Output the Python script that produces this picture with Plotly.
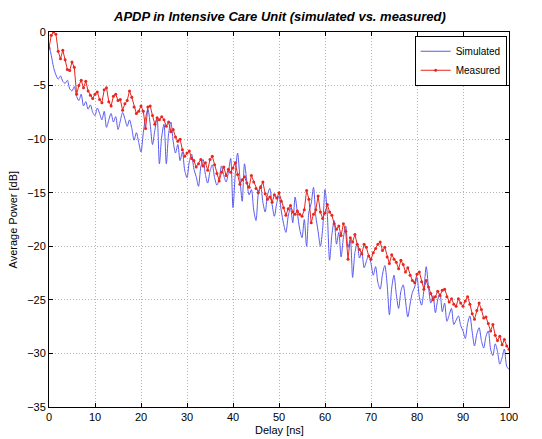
import plotly.graph_objects as go

# Delay axis (ns), 0.5 ns steps
delay = [i * 0.5 for i in range(201)]

measured = [
    -1.5, -0.3, 0.0, -0.2, -1.8, -2.5, -1.7, -2.6, -3.5, -3.6,
    -2.8, -3.3, -5.8, -5.0, -4.5, -5.2, -4.6, -5.5, -5.9, -6.2,
    -5.8, -5.6, -6.3, -6.6, -5.4, -5.2, -6.5, -6.9, -6.0, -5.8,
    -6.4, -6.3, -7.3, -6.7, -6.4, -5.5, -6.1, -7.0, -7.6, -7.4,
    -6.9, -7.4, -9.0, -7.0, -6.9, -7.8, -8.6, -8.0, -8.2, -7.9,
    -8.2, -8.8, -8.4, -9.3, -9.1, -9.8, -10.2, -10.0, -11.0, -11.6,
    -11.3, -11.1, -11.8, -12.0, -12.6, -12.3, -11.9, -12.5, -12.2, -12.9,
    -11.9, -11.6, -12.4, -13.2, -13.9, -13.1, -12.6, -13.4, -12.8, -13.1,
    -12.7, -12.2, -13.3, -14.2, -13.8, -13.5, -14.1, -14.5, -13.4, -14.0,
    -14.6, -15.0, -14.5, -14.0, -15.1, -15.6, -15.4, -15.9, -15.2, -15.5,
    -15.0, -15.8, -16.4, -17.1, -16.5, -16.2, -16.8, -17.0, -16.7, -17.0,
    -17.2, -16.6, -14.8, -15.6, -17.8, -17.0, -16.6, -15.3, -16.8, -17.4,
    -16.9, -16.1, -16.8, -17.1, -17.9, -18.4, -18.1, -19.0, -17.9, -18.6,
    -21.2, -19.2, -19.6, -18.9, -19.8, -20.3, -20.7, -19.8, -20.1, -20.9,
    -21.2, -20.6, -20.2, -19.8, -19.6, -20.4, -20.1, -21.0, -21.6, -20.8,
    -21.2, -21.5, -22.1, -21.3, -21.7, -22.4, -22.0, -22.7, -23.2, -23.4,
    -22.6, -22.4, -23.3, -24.0, -23.2, -23.8, -24.4, -25.0, -24.7, -24.2,
    -24.6, -24.1, -24.0, -24.7, -25.2, -24.9, -25.4, -25.6, -24.9, -25.3,
    -25.6, -25.1, -24.7, -25.4, -26.3, -26.8, -26.0, -25.3, -25.9, -26.7,
    -26.6, -27.2, -27.9, -27.3, -28.3, -28.8, -28.4, -29.2, -28.7, -29.3,
    -29.6,
]

simulated = [
    -1.2, -2.2, -3.3, -4.0, -4.4, -4.1, -4.6, -4.8, -4.5, -5.3,
    -5.5, -5.1, -6.0, -6.4, -5.8, -6.9, -6.5, -7.2, -6.8, -7.5,
    -7.8, -7.1, -7.6, -8.2, -7.4, -8.9, -8.2, -7.6, -8.4, -7.9,
    -9.1, -8.3, -7.5, -8.1, -8.8, -8.2, -9.0, -10.1, -9.4, -10.3,
    -11.2, -9.4, -8.0, -7.2, -8.6, -10.5, -9.2, -8.0, -12.3, -9.8,
    -8.6, -12.3, -9.5, -8.4, -10.2, -11.3, -10.5, -12.0, -11.2, -12.9,
    -13.6, -12.1, -11.4, -12.8, -13.5, -14.4, -12.6, -11.9, -13.3, -14.1,
    -13.0, -12.4, -13.6, -14.3, -13.7, -12.5, -13.4, -14.0, -13.1, -11.8,
    -16.4, -13.2, -11.3, -13.6, -15.8, -12.3, -13.9, -15.2, -14.7, -16.6,
    -17.6, -15.1, -14.3, -15.9, -16.8, -15.2, -14.6, -16.1, -17.2, -16.0,
    -15.3, -16.7, -17.9, -18.7, -17.2, -16.4, -17.8, -15.4, -16.9, -18.4,
    -19.2, -17.5, -20.0, -16.8, -16.0, -14.5, -17.2, -18.6, -20.0, -18.3,
    -14.7, -17.0, -21.3, -18.9, -17.6, -19.8, -18.7, -21.0, -19.2, -18.1,
    -20.1, -19.4, -22.9, -20.6, -19.7, -21.1, -20.5, -22.0, -21.4, -20.8,
    -21.6, -22.7, -21.9, -23.4, -24.0, -22.6, -21.8, -23.5, -26.4, -23.9,
    -22.7, -24.5, -25.8, -24.2, -23.6, -25.1, -26.6, -25.4, -24.3, -23.8,
    -22.9, -24.7, -25.5, -24.1, -21.9, -23.8, -25.3, -24.6, -26.2, -25.0,
    -24.4, -26.1, -25.3, -27.0, -26.4, -25.8, -27.3, -26.9, -26.5, -27.4,
    -27.9, -28.6, -27.2, -26.5, -28.0, -29.3, -28.2, -27.6, -28.8, -29.5,
    -28.4, -27.9, -29.6, -30.2, -29.1, -29.8, -31.0, -30.4, -29.6, -31.2,
    -31.5,
]

x_ticks = [0, 10, 20, 30, 40, 50, 60, 70, 80, 90, 100]
y_ticks = [-35, -30, -25, -20, -15, -10, -5, 0]

FONT = "Liberation Sans, Arial, sans-serif"

fig = go.Figure()
fig.add_trace(go.Scatter(
    x=delay, y=simulated, mode="lines", name="Simulated",
    line=dict(color="#5a5af0", width=1, shape="spline", smoothing=0.8),
))
fig.add_trace(go.Scatter(
    x=delay, y=measured, mode="lines+markers", name="Measured",
    line=dict(color="#e8261e", width=1),
    marker=dict(color="#e8261e", size=3),
))

axis_common = dict(
    showline=True, linecolor="black", linewidth=1, mirror="ticks",
    ticks="inside", ticklen=4, tickcolor="black",
    showgrid=True, gridcolor="#b4b4b4", griddash="1px,2px", gridwidth=1,
    zeroline=False, tickfont=dict(family=FONT, size=11, color="black"),
)

fig.update_xaxes(range=[0, 100], tickvals=x_ticks, **axis_common)
fig.update_yaxes(range=[-35, 0], tickvals=y_ticks, **axis_common)

fig.update_layout(
    width=542, height=439,
    margin=dict(l=49, r=33, t=32, b=32),
    paper_bgcolor="white", plot_bgcolor="white",
    font=dict(family=FONT, size=11, color="black"),
    showlegend=True,
    legend=dict(
        x=0.995, y=0.99, xanchor="right", yanchor="top",
        bgcolor="white", bordercolor="black", borderwidth=1,
        font=dict(family=FONT, size=10), tracegroupgap=0,
        itemwidth=30,
    ),
    annotations=[
        dict(text="<b><i>APDP in Intensive Care Unit (simulated vs. measured)</i></b>",
             xref="paper", yref="paper", x=0.5, y=1, yshift=16,
             xanchor="center", yanchor="middle", showarrow=False,
             font=dict(family=FONT, size=13, color="black")),
        dict(text="Delay [ns]", xref="paper", yref="paper", x=0.5, y=0,
             yshift=-15, xanchor="center", yanchor="top", showarrow=False,
             font=dict(family=FONT, size=11, color="black")),
        dict(text="Average Power [dB]", xref="paper", yref="paper", x=0, y=0.5,
             xshift=-37, xanchor="center", yanchor="middle", showarrow=False,
             textangle=-90, font=dict(family=FONT, size=11, color="black")),
    ],
)

fig.write_html("out.html")
